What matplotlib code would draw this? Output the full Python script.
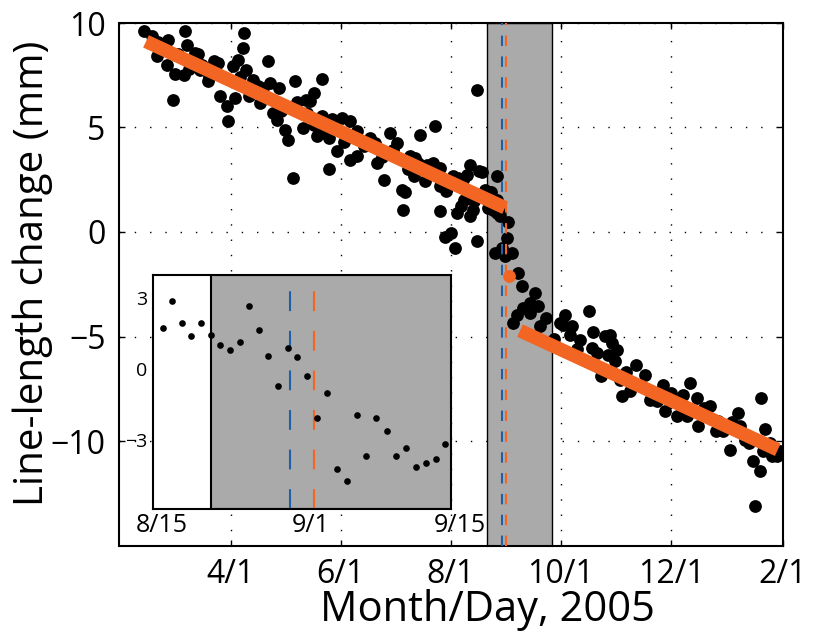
import datetime as dt
import matplotlib
matplotlib.use("Agg")
import matplotlib.pyplot as plt
import matplotlib.transforms as mtransforms

plt.rcParams['font.family'] = ['Open Sans', 'DejaVu Sans']


def doy(m, d, y=2005):
    return (dt.date(y, m, d) - dt.date(2004, 12, 31)).days


# daily line-length changes (day of year 2005, mm)
days = [43.1, 47.3, 51.0, 53.8, 55.6, 60.2, 64.9, 65.8, 66.7, 71.3, 75.0, 78.7,
        81.5, 58.8, 85.2, 88.9, 89.4, 93.5, 92.5, 94.8, 98.5, 97.7, 99.6, 103.6,
        106.4, 107.3, 111.6, 112.9, 118.0, 126.7, 114.7, 116.6, 121.2, 123.0,
        125.8, 131.3, 133.2, 136.9, 135.0, 141.5, 138.7, 141.5, 145.2, 145.7,
        149.8, 152.6, 157.2, 157.2, 161.2, 161.2, 164.6, 172.0, 171.0, 176.2,
        179.3, 183.0, 185.8, 186.2, 190.4, 192.3, 196.0, 198.7, 204.3, 203.3,
        207.0, 207.0, 210.4, 209.8, 213.0, 215.3, 214.4, 216.6, 221.8, 223.6,
        220.0, 223.6, 227.3, 227.3, 228.3,
        132.5, 141.5, 187.5, 193.2, 195.0, 207.0, 216.5, 219.5, 230.5, 218.5,
        225.5, 74.0, 231.9, 231.9, 233.8, 238.4, 238.4, 238.4, 237.5, 234.5,
        236.6, 240.3, 244.5, 243.9, 241.2, 243.0, 246.7, 250.4, 252.3, 259.6,
        256.9, 253.2, 261.5, 256.9, 249.5, 247.6, 262.4, 265.5, 273.5,
        276.3, 275.3, 280.0, 279.0, 284.6, 289.7, 291.6, 291.0, 293.8, 298.4,
        301.2, 302.1, 304.9, 304.0, 300.3, 307.6, 306.7, 312.3, 315.6, 320.6,
        323.3, 330.7, 331.6, 338.1, 340.9, 341.8, 345.5, 349.2, 350.1, 356.6,
        361.2, 364.0, 367.7, 372.3, 373.2, 376.0, 380.6, 384.3, 384.7, 387.0,
        389.8, 393.5, 390.8, 381.5, 394.5, 395.5,
        50, 56, 62, 68, 73, 79, 84, 96, 101, 109, 119, 128, 137, 147, 154,
        168, 175, 181, 189, 200, 211, 217, 226, 235, 240,
        270, 283, 296, 310, 318, 327, 335, 344, 353, 360, 369, 378, 386]
change = [9.60, 9.36, 9.07, 8.72, 8.00, 7.57, 7.53, 9.60, 8.96, 8.56, 8.00, 7.21,
          8.16, 6.30, 6.49, 6.01, 5.29, 6.41, 7.93, 8.24, 9.52, 8.80, 7.77, 7.29,
          6.97, 6.17, 8.20, 7.13, 6.89, 7.21, 5.69, 5.34, 4.90, 4.42,
          2.58, 4.97, 5.69, 6.65, 6.25, 7.32, 4.58, 5.53, 4.50, 3.01,
          3.86, 5.45, 5.29, 3.46, 3.62, 4.82, 4.10, 3.30, 4.26, 2.47,
          4.74, 4.26, 2.02, 1.07, 3.62, 2.66, 4.66, 2.42, 5.05, 3.30,
          3.06, 0.99, 1.95, -0.24, -0.05, -0.77, 2.66, 0.91, 2.74, 3.22,
          1.55, 0.75, 6.81, -0.45, 2.90,
          6.30, 4.75, 1.90, 3.54, 3.30, 2.18, 2.40, 2.50, 2.85, 1.25,
          1.07, 7.75, 2.02, 1.70, 1.15, 2.66, 1.55, 0.91, -1.01, 1.90,
          1.07, 0.75, 0.50, -0.29, -0.77, -1.17, -1.01, -1.96, -2.60, -2.92,
          -3.40, -3.64, -3.56, -3.88, -3.96, -4.36, -4.52, -4.10, -4.36,
          -3.96, -4.43, -4.52, -4.91, -5.15, -3.80, -4.79, -5.55, -5.79, -4.99,
          -4.91, -5.31, -5.63, -6.19, -5.87, -7.86, -7.07, -7.62, -6.35, -6.83,
          -8.02, -7.31, -8.58, -8.82, -8.34, -7.78, -7.23, -7.94, -9.30, -8.34,
          -9.06, -9.54, -10.42, -8.66, -9.30, -9.94, -10.97, -11.45, -7.94, -9.43,
          -10.10, -10.73, -10.73, -13.10, -10.60, -10.50,
          8.4, 9.2, 8.5, 7.8, 8.5, 7.4, 8.1, 7.4, 6.5, 6.9, 5.8, 6.2, 5.1, 5.4,
          4.3, 4.5, 3.6, 3.9, 3.0, 3.2, 2.1, 2.6, 1.5, 1.9, 1.0,
          -5.1, -5.6, -6.9, -6.7, -7.3, -8.1, -7.7, -8.8, -8.4, -9.5, -9.1,
          -10.1, -10.5]

# linear fits before and after the event
fit_pre_days = [44.1, 243.0]
fit_pre_vals = [9.12, 1.16]
fit_post_days = [251.3, 394.1]
fit_post_vals = [-4.72, -10.42]
mid_day, mid_val = 245.4, -2.12

shade_start, shade_end = 233.0, 269.0
blue_day, orange_day = 241.2, 243.7

# inset: daily solutions around the event
inset_days = [228.0, 229.0, 230.0, 231.0, 232.0, 233.0, 234.0, 235.0, 236.0,
              237.0, 238.0, 239.0, 240.0, 241.0, 242.0, 243.0, 244.1, 245.1,
              246.1, 247.2, 248.2, 249.2, 250.2, 251.3, 252.3, 253.3, 254.4,
              255.4, 256.4, 257.4]
inset_vals = [1.74, 2.87, 1.95, 1.39, 1.95, 1.44, 1.02, 0.81, 1.11, 2.64,
              1.64, 0.56, -0.71, 0.87, 0.50, -0.29, -2.09, -1.01, -4.21, -4.71,
              -1.95, -3.65, -2.07, -2.62, -3.67, -3.34, -4.12, -3.98, -3.79, -3.17]

xtick_dates = [(4, 1, 2005), (6, 1, 2005), (8, 1, 2005), (10, 1, 2005),
               (12, 1, 2005), (2, 1, 2006)]
xtick_labels = ['4/1', '6/1', '8/1', '10/1', '12/1', '2/1']
inset_tick_dates = [(8, 15), (9, 1), (9, 15)]
inset_tick_labels = ['8/15', '9/1', '9/15']

ORANGE = '#f26522'
BLUE = '#1f5fa8'
GRAY = '#aaaaaa'

fig = plt.figure(figsize=(8.15, 6.41), dpi=100)
ax = fig.add_axes([119.5 / 815, 1 - 545.5 / 641, 663.5 / 815, 522.5 / 641])

ax.axvspan(shade_start, shade_end, facecolor=GRAY, edgecolor='k', lw=1.0, zorder=1)
ax.plot(days, change, 'o', color='k', ms=9.2, mec='none', zorder=2)
ax.axvline(blue_day, color=BLUE, lw=1.5, dashes=(5, 5), zorder=3)
ax.axvline(orange_day, color=ORANGE, lw=1.5, dashes=(5, 5), zorder=3)
ax.plot(fit_pre_days, fit_pre_vals, color=ORANGE, lw=9.8, solid_capstyle='butt', zorder=4)
ax.plot(fit_post_days, fit_post_vals, color=ORANGE, lw=9.8, solid_capstyle='butt', zorder=4)
ax.plot([mid_day], [mid_val], 'o', color=ORANGE, ms=9.2, mec='none', zorder=5)

ax.set_xlim(29.4, 397)
ax.set_ylim(-15, 10)
ax.set_xticks([doy(*d) for d in xtick_dates])
ax.set_xticklabels(xtick_labels)
ax.set_yticks([-10, -5, 0, 5, 10])
ax.grid(True, color='k', linestyle=(0, (1, 10)), linewidth=1.0)
ax.set_axisbelow(True)
ax.tick_params(direction='in', length=4.5, width=1, top=True, right=True,
               labelsize=23)
ax.tick_params(axis='y', pad=10)
ax.tick_params(axis='x', pad=9)
for s in ax.spines.values():
    s.set_linewidth(1.5)
ax.set_xlabel('Month/Day, 2005', fontsize=30)
ax.set_ylabel('Line-length change (mm)', fontsize=29)
ax.yaxis.set_label_coords(-0.1, 0.52)
ax.xaxis.set_label_coords(0.555, -0.083)

# inset
ins = fig.add_axes([153 / 815, 1 - 509 / 641, 298 / 815, 234 / 641])
ins.set_facecolor('white')
ins.axvspan(shade_start, 270, facecolor=GRAY, edgecolor='k', lw=1.5, zorder=1)
ins.axvline(blue_day, color=BLUE, lw=1.5, dashes=(9.5, 9.5), zorder=2)
ins.axvline(orange_day, color=ORANGE, lw=1.5, dashes=(9.5, 9.5), zorder=2)
ins.plot(inset_days, inset_vals, 'o', color='k', ms=4.8, mec='none', zorder=3)
ins.set_xlim(227, 258)
ins.set_ylim(-5.9, 3.95)
ins.set_xticks([doy(m, d) for m, d in inset_tick_dates])
ins.set_xticklabels(inset_tick_labels)
ins.set_yticks([-3, 0, 3])
ins.tick_params(length=0)
ins.tick_params(axis='x', labelsize=18, pad=3)
ins.tick_params(axis='y', labelsize=14, pad=4)
for lab, dx in zip(ins.get_xticklabels(), [6, -4, 6]):
    lab.set_transform(lab.get_transform()
                      + mtransforms.ScaledTranslation(dx / 72, 0, fig.dpi_scale_trans))
for s in ins.spines.values():
    s.set_linewidth(1.5)

fig.savefig('out.png', dpi=100)
